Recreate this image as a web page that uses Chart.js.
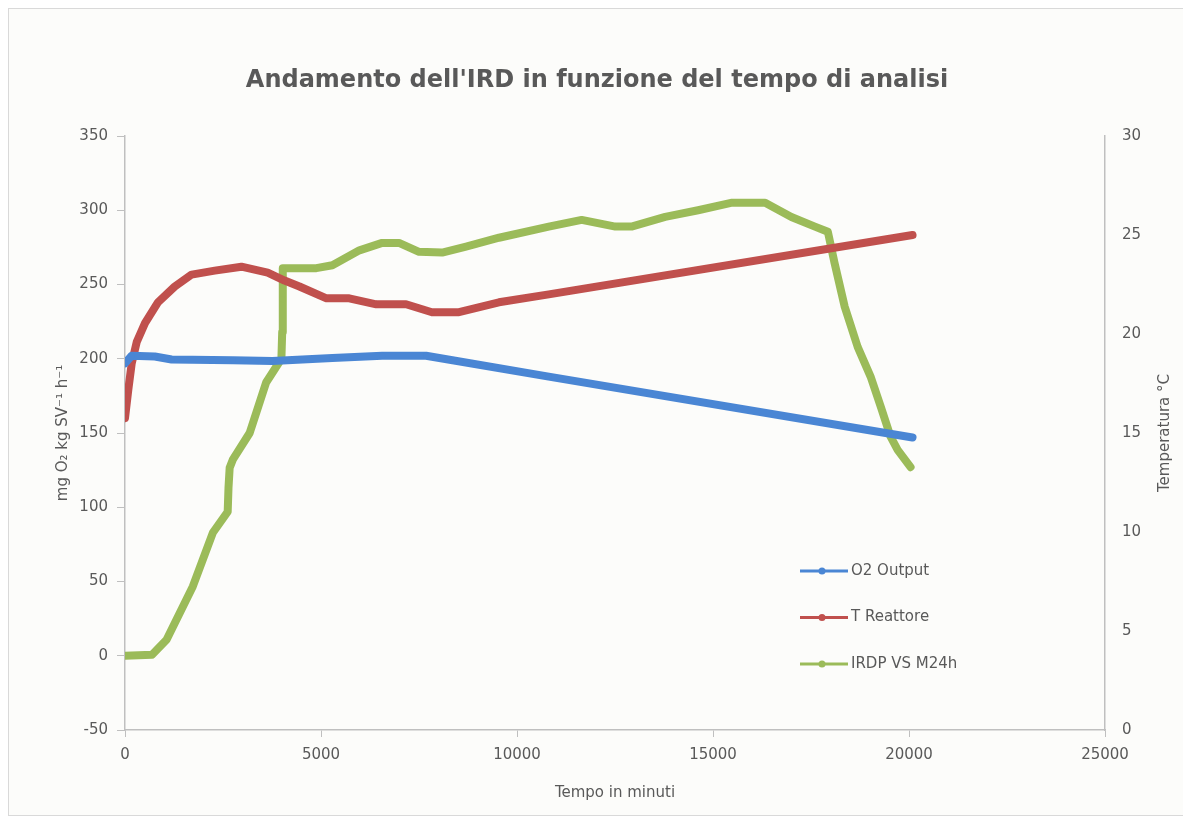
<!DOCTYPE html>
<html>
<head>
<meta charset="utf-8">
<script src="https://cdn.jsdelivr.net/npm/chart.js@4"></script>
<style>
  html, body { margin: 0; padding: 0; background: #ffffff; }
  #box {
    position: absolute; left: 8px; top: 8px;
    width: 1176px; height: 806px;
    border: 1px solid #d9d9d9; background: #fcfcfa;
  }
</style>
</head>
<body>
<div id="box"><canvas id="myChart" width="1176" height="806"></canvas></div>
<script>
// tempo in minuti / valori
const o2Time = [0, 170, 760, 1190, 2750, 3760, 5290, 6560, 7680, 10810, 20090];
const o2Values = [197, 202, 201.5, 199.5, 199, 198.5, 200.5, 202, 202, 188, 147];

// T Reattore, asse destro (°C)
const tTime = [0, 85, 170, 300, 510, 840, 1270, 1700, 2290, 2970, 3640, 4070, 4450, 5140, 5720, 6410, 7170, 7830, 8520, 9540, 10810, 20090];
const tValues = [15.75, 17.2, 18.5, 19.6, 20.55, 21.6, 22.4, 23.0, 23.2, 23.4, 23.1, 22.7, 22.4, 21.8, 21.8, 21.5, 21.5, 21.1, 21.1, 21.6, 22.0, 25.0];

const irdTime = [0, 690, 1060, 1730, 2240, 2620, 2640, 2670, 2750, 3180, 3600, 3990, 4010, 4020, 4030, 4880, 5290, 5980, 6560, 6990, 7500, 8090, 8700, 9540, 10810, 11650, 12510, 12920, 13780, 14620, 15460, 16330, 17000, 17600, 17930, 18100, 18360, 18690, 19020, 19280, 19530, 19710, 20040];
const irdValues = [0, 0.7, 10.8, 46.7, 82.8, 97, 113, 126.6, 132, 150, 184, 200, 218, 240, 261, 261, 263, 273, 278, 278, 272, 271.5, 275.5, 281.5, 289, 293.5, 289, 289, 295.5, 300, 305, 305, 295.5, 289, 285.5, 264.6, 235, 208, 188, 167.7, 147.5, 138.7, 127];

const leftTicks = [-50, 0, 50, 100, 150, 200, 250, 300, 350];
const rightTicks = [0, 5, 10, 15, 20, 25, 30];
const xTicks = [0, 5000, 10000, 15000, 20000, 25000];

const seriesNames = ['O2 Output', 'T Reattore', 'IRDP VS M24h'];
const seriesColors = ['#4a86d4', '#c0504d', '#9bbb59'];

const FONT = "'Century Gothic', 'DejaVu Sans', sans-serif";
const GREY = '#595959';
const AXIS = '#bfbfbf';

function toPoints(xs, ys) {
    return xs.map((x, i) => ({x: x, y: ys[i]}));
}

function makeSet(i, xs, ys, axis) {
    return {
        label: seriesNames[i],
        data: toPoints(xs, ys),
        yAxisID: axis,
        borderColor: seriesColors[i],
        backgroundColor: seriesColors[i],
        borderWidth: 8,
        pointRadius: 3,
        pointBorderWidth: 0,
        pointHoverRadius: 3,
        tension: 0,
        borderJoinStyle: 'round',
        borderCapStyle: 'round'
    };
}

// legenda dentro l'area del grafico e titolo dell'asse destro
const extras = {
    id: 'extras',
    afterDraw(chart) {
        const c = chart.ctx;
        const a = chart.chartArea;
        c.save();
        c.font = '15px ' + FONT;
        c.textBaseline = 'middle';
        seriesNames.forEach((name, i) => {
            const lx = a.left + 675;
            const ly = a.top + 435 + i * 46.5;
            c.strokeStyle = seriesColors[i];
            c.lineWidth = 3;
            c.beginPath();
            c.moveTo(lx, ly);
            c.lineTo(lx + 48, ly);
            c.stroke();
            c.fillStyle = seriesColors[i];
            c.beginPath();
            c.arc(lx + 22, ly, 3.5, 0, Math.PI * 2);
            c.fill();
            c.fillStyle = GREY;
            c.textAlign = 'left';
            c.fillText(name, lx + 51, ly);
        });
        c.translate(a.right + 60, (a.top + a.bottom) / 2);
        c.rotate(-Math.PI / 2);
        c.textAlign = 'center';
        c.fillStyle = GREY;
        c.font = '15px ' + FONT;
        c.fillText('Temperatura °C', 0, 0);
        c.restore();
    }
};

const ctx = document.getElementById('myChart').getContext('2d');
const myChart = new Chart(ctx, {
    type: 'line',
    data: {
        datasets: [
            makeSet(0, o2Time, o2Values, 'y'),
            makeSet(1, tTime, tValues, 'y2'),
            makeSet(2, irdTime, irdValues, 'y')
        ]
    },
    options: {
        responsive: false,
        animation: false,
        layout: {padding: 0},
        scales: {
            x: {
                type: 'linear',
                min: 0,
                max: 25000,
                afterBuildTicks: s => { s.ticks = xTicks.map(v => ({value: v})); },
                afterFit: s => { s.height = 85; },
                border: {color: AXIS, width: 1.5},
                grid: {drawOnChartArea: false, tickLength: 7, color: AXIS},
                ticks: {color: GREY, font: {family: FONT, size: 15}, padding: 9, maxRotation: 0,
                        callback: v => String(v)},
                title: {display: true, text: 'Tempo in minuti', color: GREY,
                        font: {family: FONT, size: 15}, padding: {top: 0, bottom: 13}}
            },
            y: {
                position: 'left',
                min: -50,
                max: 350,
                afterBuildTicks: s => { s.ticks = leftTicks.map(v => ({value: v})); },
                afterFit: s => { s.width = 116; },
                border: {color: AXIS, width: 1.5},
                grid: {drawOnChartArea: false, tickLength: 8, color: AXIS},
                ticks: {color: GREY, font: {family: FONT, size: 15}, padding: 9},
                title: {display: true, text: 'mg O\u2082 kg SV\u207B\u00B9 h\u207B\u00B9', color: GREY,
                        font: {family: FONT, size: 15}, padding: {top: 45, bottom: 0}}
            },
            y2: {
                position: 'right',
                min: 0,
                max: 30,
                afterBuildTicks: s => { s.ticks = rightTicks.map(v => ({value: v})); },
                afterFit: s => { s.width = 80; },
                border: {color: AXIS, width: 1.5},
                grid: {drawOnChartArea: false, drawTicks: false},
                ticks: {color: GREY, font: {family: FONT, size: 15}, padding: 17}
            }
        },
        plugins: {
            legend: {display: false},
            tooltip: {enabled: false},
            title: {
                display: true,
                text: "Andamento dell'IRD in funzione del tempo di analisi",
                color: GREY,
                font: {family: FONT, size: 24, weight: 'bold', lineHeight: 1.2},
                padding: {top: 57, bottom: 41.2}
            }
        }
    },
    plugins: [extras]
});
</script>
</body>
</html>
